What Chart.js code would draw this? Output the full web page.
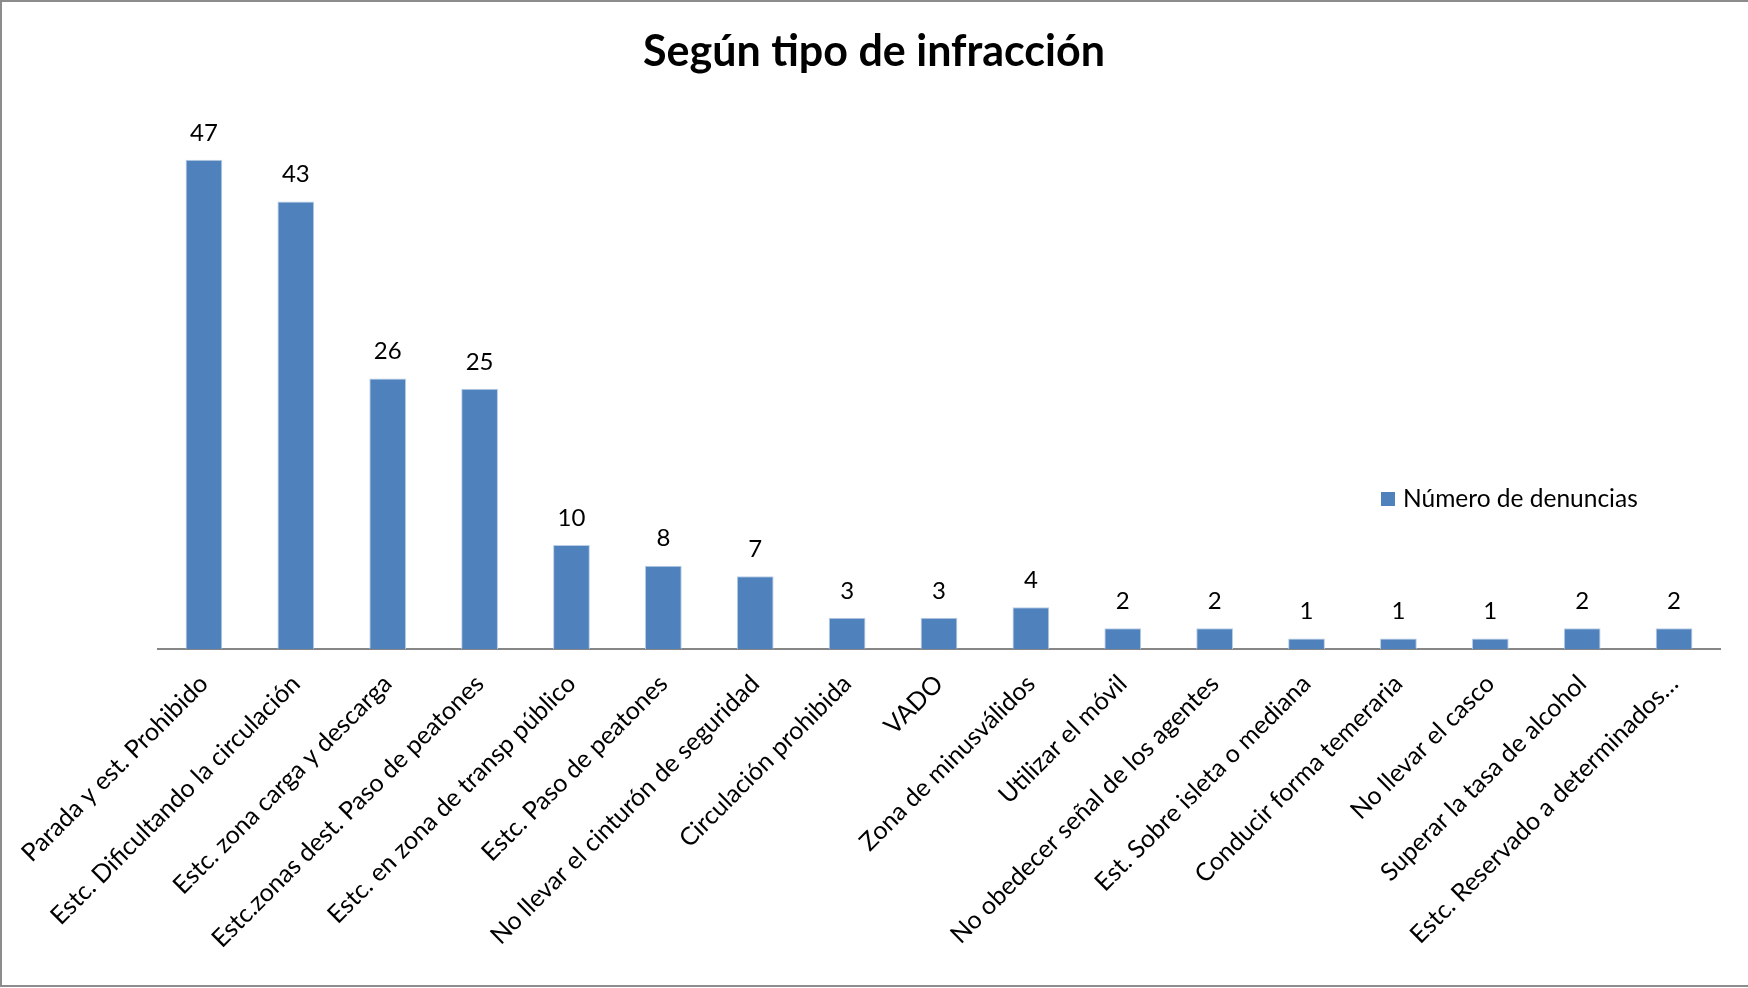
<!DOCTYPE html>
<html>
<head>
<meta charset="utf-8">
<script src="https://cdn.jsdelivr.net/npm/chart.js@4.4.1/dist/chart.umd.min.js"></script>
<style>
  html, body { margin: 0; padding: 0; background: #fff; }
  #wrap { width: 1748px; height: 988px; }
</style>
</head>
<body>
<div id="wrap"><canvas id="infraccionChart" width="1748" height="988"></canvas></div>
<script>
const categories = [
  'Parada y est. Prohibido',
  'Estc. Dificultando la circulación',
  'Estc. zona carga y descarga',
  'Estc.zonas dest. Paso de peatones',
  'Estc. en zona de transp público',
  'Estc. Paso de peatones',
  'No llevar el cinturón de seguridad',
  'Circulación prohibida',
  'VADO',
  'Zona de minusválidos',
  'Utilizar el móvil',
  'No obedecer señal de los agentes',
  'Est. Sobre isleta o mediana',
  'Conducir forma temeraria',
  'No llevar el casco',
  'Superar la tasa de alcohol',
  'Estc. Reservado a determinados…'
];
const denuncias = [47, 43, 26, 25, 10, 8, 7, 3, 3, 4, 2, 2, 1, 1, 1, 2, 2];
const seriesLabel = 'Número de denuncias';
const chartTitle = 'Según tipo de infracción';

const FONT = 'Lato, "Open Sans", sans-serif';

// Value labels above each bar
const valueLabels = {
  id: 'valueLabels',
  afterDatasetsDraw(chart) {
    const ctx = chart.ctx;
    const meta = chart.getDatasetMeta(0);
    ctx.save();
    ctx.font = '24px ' + FONT;
    ctx.fillStyle = '#000';
    ctx.textAlign = 'center';
    ctx.textBaseline = 'bottom';
    meta.data.forEach((bar, i) => {
      ctx.fillText(String(chart.data.datasets[0].data[i]), bar.x, bar.y - 15);
    });
    ctx.restore();
  }
};

// Legend placed like the original (right side, mid height) + outer frame
const sideLegend = {
  id: 'sideLegend',
  afterDraw(chart) {
    const ctx = chart.ctx;
    ctx.save();
    ctx.fillStyle = '#4F81BD';
    ctx.fillRect(1381, 492, 14, 14);
    ctx.font = '24.5px ' + FONT;
    ctx.fillStyle = '#000';
    ctx.textAlign = 'left';
    ctx.textBaseline = 'middle';
    ctx.fillText(chart.data.datasets[0].label, 1403, 499);

    ctx.strokeStyle = '#8c8c8c';
    ctx.lineWidth = 2;
    ctx.beginPath();
    ctx.moveTo(1748, 1);
    ctx.lineTo(1, 1);
    ctx.lineTo(1, 986);
    ctx.lineTo(1748, 986);
    ctx.stroke();
    ctx.restore();
  }
};

const ctx = document.getElementById('infraccionChart').getContext('2d');
new Chart(ctx, {
  type: 'bar',
  data: {
    labels: categories,
    datasets: [{
      label: seriesLabel,
      data: denuncias,
      backgroundColor: '#4F81BD',
      borderColor: '#b9cde5',
      borderWidth: 1,
      categoryPercentage: 1,
      barPercentage: 0.4
    }]
  },
  options: {
    responsive: false,
    animation: false,
    layout: {
      padding: { left: 28, right: 28, top: 0, bottom: 9 }
    },
    scales: {
      y: {
        display: true,
        min: 0,
        max: 50,
        grid: { display: false },
        border: { display: false },
        ticks: { display: false },
        afterFit(scale) {
          scale.width = 130;
        }
      },
      x: {
        grid: { display: false },
        border: { display: true, color: '#868686', width: 2 },
        ticks: {
          color: '#000',
          maxRotation: 45,
          minRotation: 45,
          autoSkip: false,
          padding: 12,
          font: { family: FONT, size: 25 }
        },
        afterFit(scale) {
          scale.height = 330;
        }
      }
    },
    plugins: {
      legend: { display: false },
      tooltip: { enabled: false },
      title: {
        display: true,
        text: chartTitle,
        color: '#000',
        font: { family: FONT, size: 43, weight: 'bold' },
        padding: { top: 26, bottom: 51 }
      }
    }
  },
  plugins: [valueLabels, sideLegend]
});
</script>
</body>
</html>
